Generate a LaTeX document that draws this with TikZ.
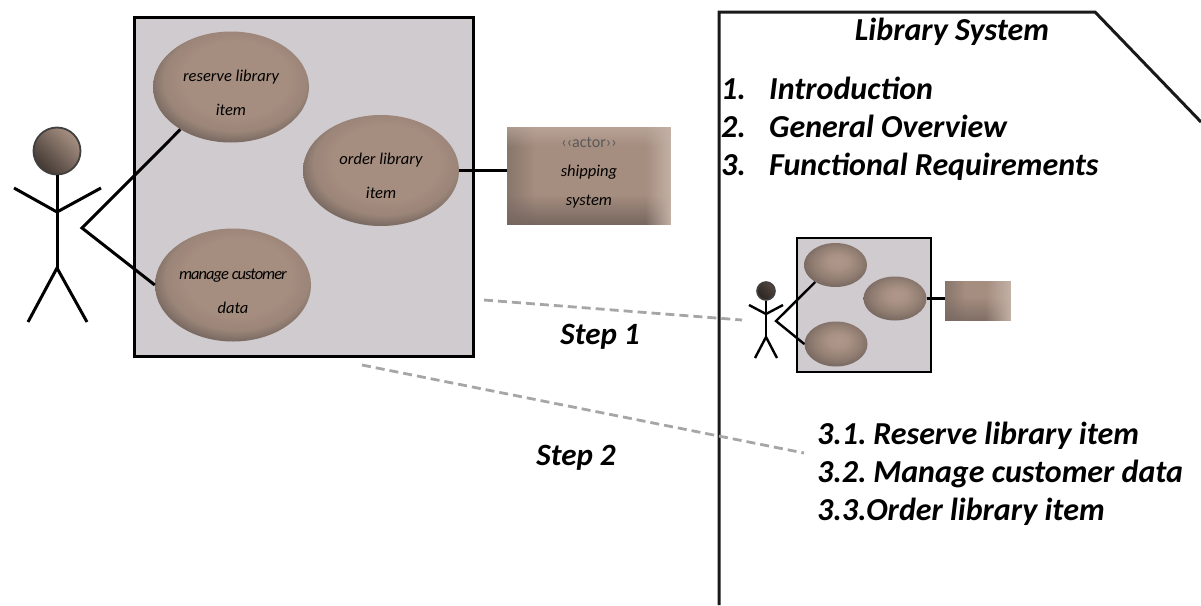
\documentclass[tikz,border=0pt]{standalone}
\usepackage{fontspec}
\setmainfont{Carlito}
\usetikzlibrary{shapes.geometric,fadings}
\definecolor{panel}{HTML}{CFCBCE}
\definecolor{base}{HTML}{A58D7F}
\definecolor{dk}{HTML}{75665F}
\definecolor{lt}{HTML}{C4B2A6}
\definecolor{dash}{HTML}{A6A6A6}
\pgfdeclareradialshading{ellbig}{\pgfpoint{2.5bp}{5.5bp}}{color(0bp)=(base);color(17bp)=(base);color(23bp)=(base!80!dk);color(28bp)=(dk);color(50bp)=(dk)}
\pgfdeclareradialshading{ellsmall}{\pgfpoint{2bp}{4.5bp}}{color(0bp)=(base!70!lt);color(8bp)=(base!85!lt);color(19bp)=(base!60!dk);color(28bp)=(dk);color(50bp)=(dk)}
\newcommand\lift{\rule{0pt}{23pt}}
\tikzset{
  x=1pt,y=-1pt,
  sysbox/.style={draw=black,line width=3pt,fill=panel},
  stick/.style={draw=black,line width=3pt},
  thinstick/.style={draw=black,line width=2.4pt},
  bigell/.style={ellipse,shading=ellbig,inner sep=0pt,minimum width=156pt,minimum height=111pt,align=center,font=\fontsize{16.5}{34}\selectfont\itshape},
  smallell/.style={ellipse,shading=ellsmall,inner sep=0pt,minimum width=63pt,minimum height=44pt},
  head/.style={circle,inner sep=0pt,draw=black!75,shading=axis},
  dashline/.style={draw=dash,line width=2.8pt,dash pattern=on 9pt off 5pt},
  steplabel/.style={font=\fontsize{31}{33}\selectfont\bfseries\itshape,anchor=base,inner sep=0pt},
  listlabel/.style={font=\fontsize{32}{34}\selectfont\bfseries\itshape,anchor=base west,inner sep=0pt},
}
\begin{document}
\begin{tikzpicture}
\useasboundingbox (0,0) rectangle (1201,605);
% document frame
\draw[line width=3pt,black!90] (719,605) -- (719,12) -- (1095,12) -- (1201,122);
\node[listlabel,anchor=base] (title) at (952,40) {Library System};
\node[listlabel] (n1) at (721,99) {1.};
\node[listlabel] (t1) at (769,99) {Introduction};
\node[listlabel] (n2) at (721,137) {2.};
\node[listlabel] (t2) at (769,137) {General Overview};
\node[listlabel] (n3) at (721,175) {3.};
\node[listlabel] (t3) at (769,175) {Functional Requirements};
\node[listlabel] (s1) at (817,444) {3.1.\hspace{-3pt} Reserve library item};
\node[listlabel] (s2) at (817,482) {3.2.\hspace{-3pt} Manage customer data};
\node[listlabel] (s3) at (817,520) {3.3.Order library item};
% big diagram
\node[sysbox,minimum width=339pt,minimum height=339pt,inner sep=0pt] (sys) at (303.5,186.5) {};
\node[bigell] (reserve) at (231,87) {\lift reserve library\\item};
\node[bigell] (order) at (381,170.5) {\lift order library\\item};
\node[bigell,minimum height=113pt] (manage) at (233,285) {\lift\addfontfeature{LetterSpace=-6.0}manage customer\\data};
% shipping actor box
\node[rectangle,fill=base,minimum width=164pt,minimum height=98pt,inner sep=0pt] (ship) at (589,176) {};
\fill[dk,path fading=north] (ship.south west) rectangle ([yshift=30pt]ship.south east);
\fill[dk,opacity=.6,path fading=east] (ship.south west) rectangle ([xshift=28pt]ship.north west);
\fill[lt,path fading=west] (ship.south east) rectangle ([xshift=-26pt]ship.north east);
\fill[lt,opacity=.6,path fading=south] (ship.north west) rectangle ([yshift=-20pt]ship.north east);
\node[font=\fontsize{16}{16}\selectfont,text=black!65] (shipa) at (589,142) {‹‹actor››};
\node[font=\fontsize{16.5}{29}\selectfont\itshape,align=center] (shipt) at (589,187) {shipping\\system};
% big stick figure
\node[head,minimum size=47pt,line width=1.8pt,left color=black!60!base,right color=base!90!lt,shading angle=135] (ahead) at (57,151) {};
\coordinate (aneck) at (57,212);
\coordinate (ahip) at (57,268);
\coordinate (alh) at (14,188);
\coordinate (arh) at (101,188);
\coordinate (alf) at (28,322);
\coordinate (arf) at (87,322);
\draw[stick] (ahead.south) -- (ahip);
\draw[stick] (alh) -- (aneck) -- (arh);
\draw[stick] (alf) -- (ahip) -- (arf);
\coordinate (elbow) at (82,228);
\draw[stick] (reserve.220) -- (elbow) -- (manage.west);
\draw[stick] (order.east) -- (order.east -| ship.west);
% steps
\coordinate (d1a) at (484,300);
\coordinate (d1b) at (742,320);
\coordinate (d2a) at (362,365);
\coordinate (d2b) at (804,453);
\draw[dashline] (d1a) -- (d1b);
\draw[dashline] (d2a) -- (d2b);
\node[steplabel] (step1) at (600,344) {Step 1};
\node[steplabel] (step2) at (576,465) {Step 2};
% small diagram
\node[sysbox,line width=2.6pt,minimum width=134pt,minimum height=134pt,inner sep=0pt] (msys) at (864,305) {};
\node[smallell] (mres) at (835.5,265) {};
\node[smallell] (mord) at (895,298.5) {};
\node[smallell,minimum height=45pt] (mman) at (836,344) {};
\node[rectangle,fill=base,minimum width=66pt,minimum height=40pt,inner sep=0pt] (mship) at (978,301) {};
\fill[dk,opacity=.8,path fading=north] (mship.south west) rectangle ([yshift=24pt]mship.south east);
\fill[dk,opacity=.6,path fading=east] (mship.south west) rectangle ([xshift=20pt]mship.north west);
\fill[lt,path fading=west] (mship.south east) rectangle ([xshift=-26pt]mship.north east);
\node[head,minimum size=18pt,line width=1.6pt,left color=black!75!base,right color=black!50!base,shading angle=135] (mhead) at (766,291) {};
\coordinate (mneck) at (766,314);
\coordinate (mhip) at (766,337);
\coordinate (mlh) at (749,305);
\coordinate (mrh) at (783,305);
\coordinate (mlf) at (755,358);
\coordinate (mrf) at (777,358);
\draw[thinstick] (mhead.south) -- (mhip);
\draw[thinstick] (mlh) -- (mneck) -- (mrh);
\draw[thinstick] (mlf) -- (mhip) -- (mrf);
\coordinate (melbow) at (776,321);
\draw[thinstick] (mres.220) -- (melbow) -- (mman.west);
\draw[thinstick] (mord.east) -- (mord.east -| mship.west);
\end{tikzpicture}
\end{document}
